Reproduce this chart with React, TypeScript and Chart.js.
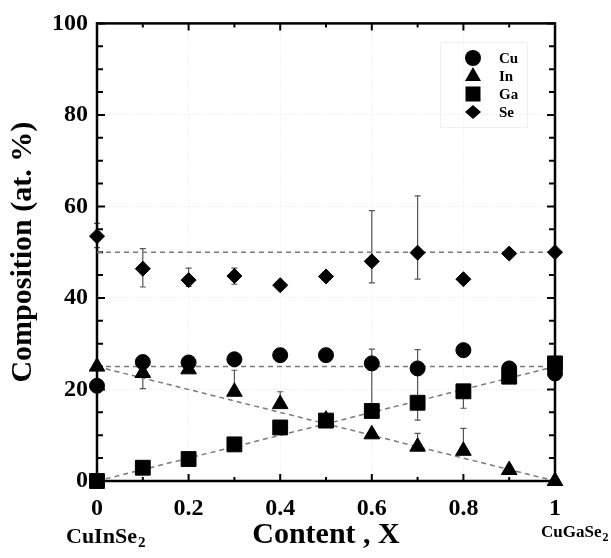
import { useEffect, useRef } from 'react';
import { Chart, registerables } from 'chart.js';
Chart.register(...registerables);

// ---------- data ----------
const contentX = [0, 0.1, 0.2, 0.3, 0.4, 0.5, 0.6, 0.7, 0.8, 0.9, 1.0];
const cuValues = [20.8, 26.0, 25.9, 26.6, 27.5, 27.5, 25.7, 24.6, 28.6, 24.6, 23.5];
const inValues = [25.0, 23.6, 24.4, 19.5, 16.8, 13.4, 10.2, 7.5, 6.6, 2.4, 0.0];
const gaValues = [0.0, 2.9, 4.8, 8.0, 11.7, 13.2, 15.3, 17.1, 19.6, 22.8, 25.7];
const seValues = [53.5, 46.4, 43.9, 44.8, 42.8, 44.7, 48.0, 49.9, 44.1, 49.7, 50.0];

// error ranges [low, high] or null
const cuErr: ([number, number] | null)[] = [null, null, null, null, null, null, [15.5, 28.8], [13.3, 28.7], null, null, null];
const inErr: ([number, number] | null)[] = [null, [20.2, 23.6], null, [19.5, 24.2], [16.6, 19.5], null, null, [7.5, 10.4], [6.6, 11.5], null, null];
const gaErr: ([number, number] | null)[] = [null, null, null, null, null, null, null, null, [15.9, 19.6], null, null];
const seErr: ([number, number] | null)[] = [[51.0, 56.3], [42.4, 50.8], [42.5, 46.5], [43.0, 46.5], null, null, [43.3, 59.1], [44.1, 62.3], null, null, null];

// dashed guide lines: [x0, y0, x1, y1]
const guideLines: [number, number, number, number][] = [
  [0, 50, 1, 50],
  [0, 25, 1, 25],
  [0, 25, 1, 0],
  [0, 0, 1, 25],
];

const xTickValues = [0, 0.2, 0.4, 0.6, 0.8, 1];
const seriesNames = ['Cu', 'In', 'Ga', 'Se'];
const leftEndLabel = ['CuInSe', '2'];
const rightEndLabel = ['CuGaSe', '2'];
const xTitle = 'Content , X';
const yTitle = 'Composition (at. %)';

const FONT = "'Liberation Serif', 'Times New Roman', serif";

const toPts = (vals: number[]) => vals.map((v, i) => ({ x: contentX[i], y: v }));

const errorBarPlugin = {
  id: 'errorBars',
  beforeDatasetsDraw(chart: any) {
    const { ctx, scales } = chart;
    const xs = scales.x, ys = scales.y;
    const sets = [cuErr, inErr, gaErr, seErr];
    ctx.save();
    ctx.strokeStyle = '#555';
    ctx.lineWidth = 1.2;
    sets.forEach((errs) => {
      errs.forEach((e, i) => {
        if (!e) return;
        const px = xs.getPixelForValue(contentX[i]);
        const y0 = ys.getPixelForValue(e[0]);
        const y1 = ys.getPixelForValue(e[1]);
        ctx.beginPath();
        ctx.moveTo(px, y0); ctx.lineTo(px, y1);
        ctx.moveTo(px - 3, y0); ctx.lineTo(px + 3, y0);
        ctx.moveTo(px - 3, y1); ctx.lineTo(px + 3, y1);
        ctx.stroke();
      });
    });
    ctx.restore();
  },
};

const framePlugin = {
  id: 'frame',
  beforeDatasetsDraw(chart: any) {
    const { ctx, chartArea: a, scales } = chart;
    const xs = scales.x, ys = scales.y;
    ctx.save();
    ctx.strokeStyle = '#000';
    ctx.lineWidth = 2;
    // inward ticks
    for (let k = 0; k <= 10; k++) {
      const v = k / 10;
      const px = xs.getPixelForValue(v);
      const len = k % 2 === 0 ? 7 : 4;
      ctx.beginPath();
      ctx.moveTo(px, a.bottom); ctx.lineTo(px, a.bottom - len);
      ctx.moveTo(px, a.top); ctx.lineTo(px, a.top + len);
      ctx.stroke();
    }
    for (let k = 0; k <= 20; k++) {
      const v = k * 5;
      const py = ys.getPixelForValue(v);
      const len = k % 4 === 0 ? 8 : 6;
      ctx.beginPath();
      ctx.moveTo(a.left, py); ctx.lineTo(a.left + len, py);
      ctx.moveTo(a.right, py); ctx.lineTo(a.right - len, py);
      ctx.stroke();
    }
    ctx.lineWidth = 2.5;
    ctx.strokeRect(a.left, a.top, a.right - a.left, a.bottom - a.top);
    ctx.restore();
  },
  afterDraw(chart: any) {
    const { ctx, scales } = chart;
    const xs = scales.x;
    ctx.save();
    ctx.fillStyle = '#000';
    ctx.textBaseline = 'alphabetic';
    // left end label
    let x = xs.getPixelForValue(0) - 31;
    ctx.font = `bold 22px ${FONT}`;
    ctx.fillText(leftEndLabel[0], x, 543);
    x += ctx.measureText(leftEndLabel[0]).width;
    ctx.font = `bold 15px ${FONT}`;
    ctx.fillText(leftEndLabel[1], x + 1, 547);
    // right end label
    x = xs.getPixelForValue(1) - 14;
    ctx.font = `bold 17px ${FONT}`;
    ctx.fillText(rightEndLabel[0], x, 537);
    x += ctx.measureText(rightEndLabel[0]).width;
    ctx.font = `bold 12px ${FONT}`;
    ctx.fillText(rightEndLabel[1], x + 1, 541);
    ctx.restore();
  },
};

function drawShape(ctx: CanvasRenderingContext2D, shape: string, x: number, y: number) {
  ctx.beginPath();
  if (shape === 'circle') {
    ctx.arc(x, y, 8, 0, Math.PI * 2);
  } else if (shape === 'triangle') {
    ctx.moveTo(x, y - 9); ctx.lineTo(x + 8, y + 5); ctx.lineTo(x - 8, y + 5); ctx.closePath();
  } else if (shape === 'rect') {
    ctx.rect(x - 7.5, y - 7.5, 15, 15);
  } else {
    ctx.moveTo(x - 8, y); ctx.lineTo(x, y - 7); ctx.lineTo(x + 8, y); ctx.lineTo(x, y + 7); ctx.closePath();
  }
  ctx.fill();
}

const legendPlugin = {
  id: 'customLegend',
  afterDraw(chart: any) {
    const { ctx } = chart;
    ctx.save();
    ctx.strokeStyle = '#f0f0f0';
    ctx.lineWidth = 1;
    ctx.strokeRect(440.5, 42.5, 87, 85);
    const shapes = ['circle', 'triangle', 'rect', 'rectRot'];
    const ys = [58, 76, 94, 112];
    ctx.fillStyle = '#000';
    ctx.font = `bold 15px ${FONT}`;
    ctx.textBaseline = 'middle';
    seriesNames.forEach((n, i) => {
      drawShape(ctx, shapes[i], 473, ys[i]);
      ctx.fillText(n, 499, ys[i] + 1);
    });
    ctx.restore();
  },
};

export default function App() {
  const ref = useRef<HTMLCanvasElement | null>(null);
  useEffect(() => {
    if (!ref.current) return;
    const markerSets = [
      { label: seriesNames[0], data: toPts(cuValues), pointStyle: 'circle', pointRadius: 7.5 },
      { label: seriesNames[1], data: toPts(inValues), pointStyle: 'triangle', pointRadius: 9 },
      { label: seriesNames[2], data: toPts(gaValues), pointStyle: 'rect', pointRadius: 10.5 },
      { label: seriesNames[3], data: toPts(seValues), pointStyle: 'rectRot', pointRadius: 7.5 },
    ].map((d) => ({
      ...d,
      type: 'scatter' as const,
      showLine: false,
      backgroundColor: '#000',
      borderColor: '#000',
      borderWidth: 1,
      pointHoverRadius: d.pointRadius,
      clip: false as any,
      order: 0,
    }));
    const lineSets = guideLines.map((g, i) => ({
      type: 'line' as const,
      label: 'guide' + i,
      data: [{ x: g[0], y: g[1] }, { x: g[2], y: g[3] }],
      borderColor: '#7a7a7a',
      borderWidth: 1.5,
      borderDash: [5, 4],
      pointRadius: 0,
      fill: false,
      order: 5,
    }));
    const chart = new Chart(ref.current, {
      type: 'scatter',
      data: { datasets: [...markerSets, ...lineSets] as any },
      options: {
        animation: false,
        responsive: false,
        layout: { padding: { left: 0, top: 23, right: 56, bottom: 0 } },
        plugins: { legend: { display: false }, tooltip: { enabled: false } },
        scales: {
          x: {
            type: 'linear',
            min: 0,
            max: 1,
            afterFit: (s: any) => { s.height = 77; },
            afterBuildTicks: (s: any) => { s.ticks = xTickValues.map((v) => ({ value: v })); },
            ticks: {
              color: '#000',
              padding: 13,
              font: { family: FONT, size: 24, weight: 'bold' },
              callback: (v: any) => String(Number(Number(v).toFixed(1))),
            },
            grid: { color: '#e8e8e8', lineWidth: 1, drawTicks: false },
            border: { display: false, dash: [1, 2] },
            title: {
              display: true,
              text: xTitle,
              color: '#000',
              font: { family: FONT, size: 30, weight: 'bold' },
              padding: { top: 0, bottom: 5 },
            },
          },
          y: {
            type: 'linear',
            min: 0,
            max: 100,
            afterFit: (s: any) => { s.width = 97; },
            ticks: {
              stepSize: 20,
              color: '#000',
              padding: 9,
              font: { family: FONT, size: 24, weight: 'bold' },
            },
            grid: { color: '#e8e8e8', lineWidth: 1, drawTicks: false },
            border: { display: false, dash: [1, 2] },
            title: {
              display: true,
              text: yTitle,
              color: '#000',
              font: { family: FONT, size: 30, weight: 'bold' },
              padding: { top: 5, bottom: 0 },
            },
          },
        },
      },
      plugins: [errorBarPlugin, framePlugin, legendPlugin],
    } as any);
    return () => chart.destroy();
  }, []);
  return (
    <div style={{ position: 'absolute', left: 0, top: 0, width: 611, height: 558, background: '#fff' }}>
      <canvas ref={ref} width={611} height={558} style={{ display: 'block' }} />
    </div>
  );
}
